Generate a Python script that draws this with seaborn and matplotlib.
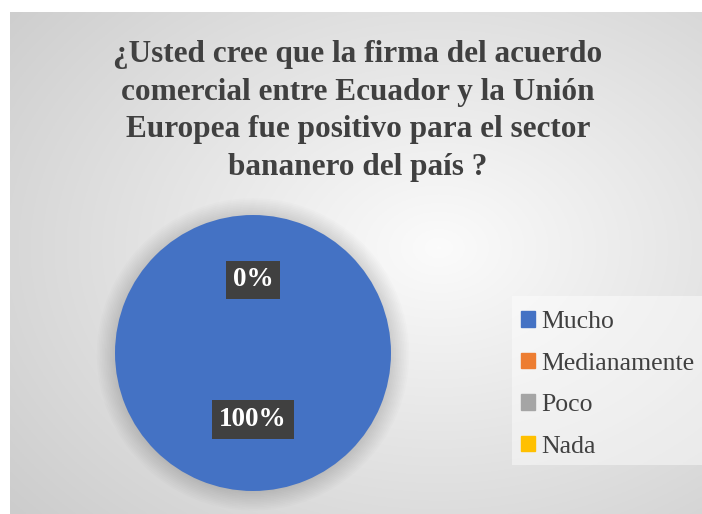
import numpy as np
import matplotlib
matplotlib.use("Agg")
import matplotlib.pyplot as plt
import seaborn as sns
from matplotlib.patches import Circle, Rectangle

sns.set_theme(style="white")
plt.rcParams['font.family'] = ['Liberation Serif', 'DejaVu Serif']

categories = ["Mucho", "Medianamente", "Poco", "Nada"]
values = [100, 0, 0, 0]
colors = ["#4472C4", "#ED7D31", "#A5A5A5", "#FFC000"]
title = "¿Usted cree que la firma del acuerdo\ncomercial entre Ecuador y la Unión\nEuropea fue positivo para el sector\nbananero del país ?"

W, H = 702, 514
fig = plt.figure(figsize=(W / 100, H / 100), dpi=100)
fig.patch.set_facecolor("white")

# gradient background
bg = fig.add_axes([10 / W, 0, (W - 10) / W, (H - 12) / H])
yy, xx = np.mgrid[0:1:300j, 0:1:400j]
d = np.sqrt(((xx - 0.62) / 0.75) ** 2 + ((yy - 0.53) / 0.75) ** 2)
g = np.clip(0.985 - 0.17 * d, 0, 1)
bg.imshow(np.dstack([g, g, g]), aspect="auto", extent=[0, 1, 0, 1], origin="lower")
bg.set_axis_off()

# pie axes
cx, cy, r = 253, 353, 138
ax = fig.add_axes([(cx - r) / W, (H - cy - r) / H, 2 * r / W, 2 * r / H])
ax.set_axis_off()
# soft shadow
for k in range(12):
    c = Circle((0, -0.01), 1.0 + 0.012 * k, color="black", alpha=0.012, zorder=0, lw=0)
    c.set_clip_on(False)
    ax.add_patch(c)
wedges, texts, autotexts = ax.pie(
    values, colors=colors, startangle=90, counterclock=False,
    autopct="%.0f%%", pctdistance=0.5, radius=1.0,
    textprops=dict(color="white", fontsize=19.5, fontweight="bold"),
    wedgeprops=dict(linewidth=0),
)
for t in autotexts:
    t.set_bbox(dict(boxstyle="square,pad=0.25", facecolor="#404040", edgecolor="none"))
autotexts[0].set_position((0, -0.48))
for t in autotexts[1:]:
    t.set_position((0, 0.53))
ax.set_xlim(-1.0, 1.0)
ax.set_ylim(-1.0, 1.0)

fig.text(358 / W, 1 - 111 / H, title, ha="center", va="center", fontsize=22.5,
         fontweight="bold", color="#404040", linespacing=1.39)

# legend box
fig.patches.append(Rectangle((512 / W, (H - 465) / H), (W - 512) / W, (465 - 296) / H,
                             transform=fig.transFigure, facecolor="white", alpha=0.45,
                             edgecolor="none", zorder=1))
handles = [plt.Rectangle((0, 0), 1, 1, color=c) for c in colors]
leg = fig.legend(handles, categories, loc="center left", bbox_to_anchor=(521 / W, (H - 384.5) / H),
                 frameon=False, fontsize=18.5, handlelength=0.55, handleheight=0.55,
                 handletextpad=0.25, labelspacing=0.76, borderpad=0, borderaxespad=0)
for t in leg.get_texts():
    t.set_color("#404040")

fig.savefig("out.png", dpi=100)
